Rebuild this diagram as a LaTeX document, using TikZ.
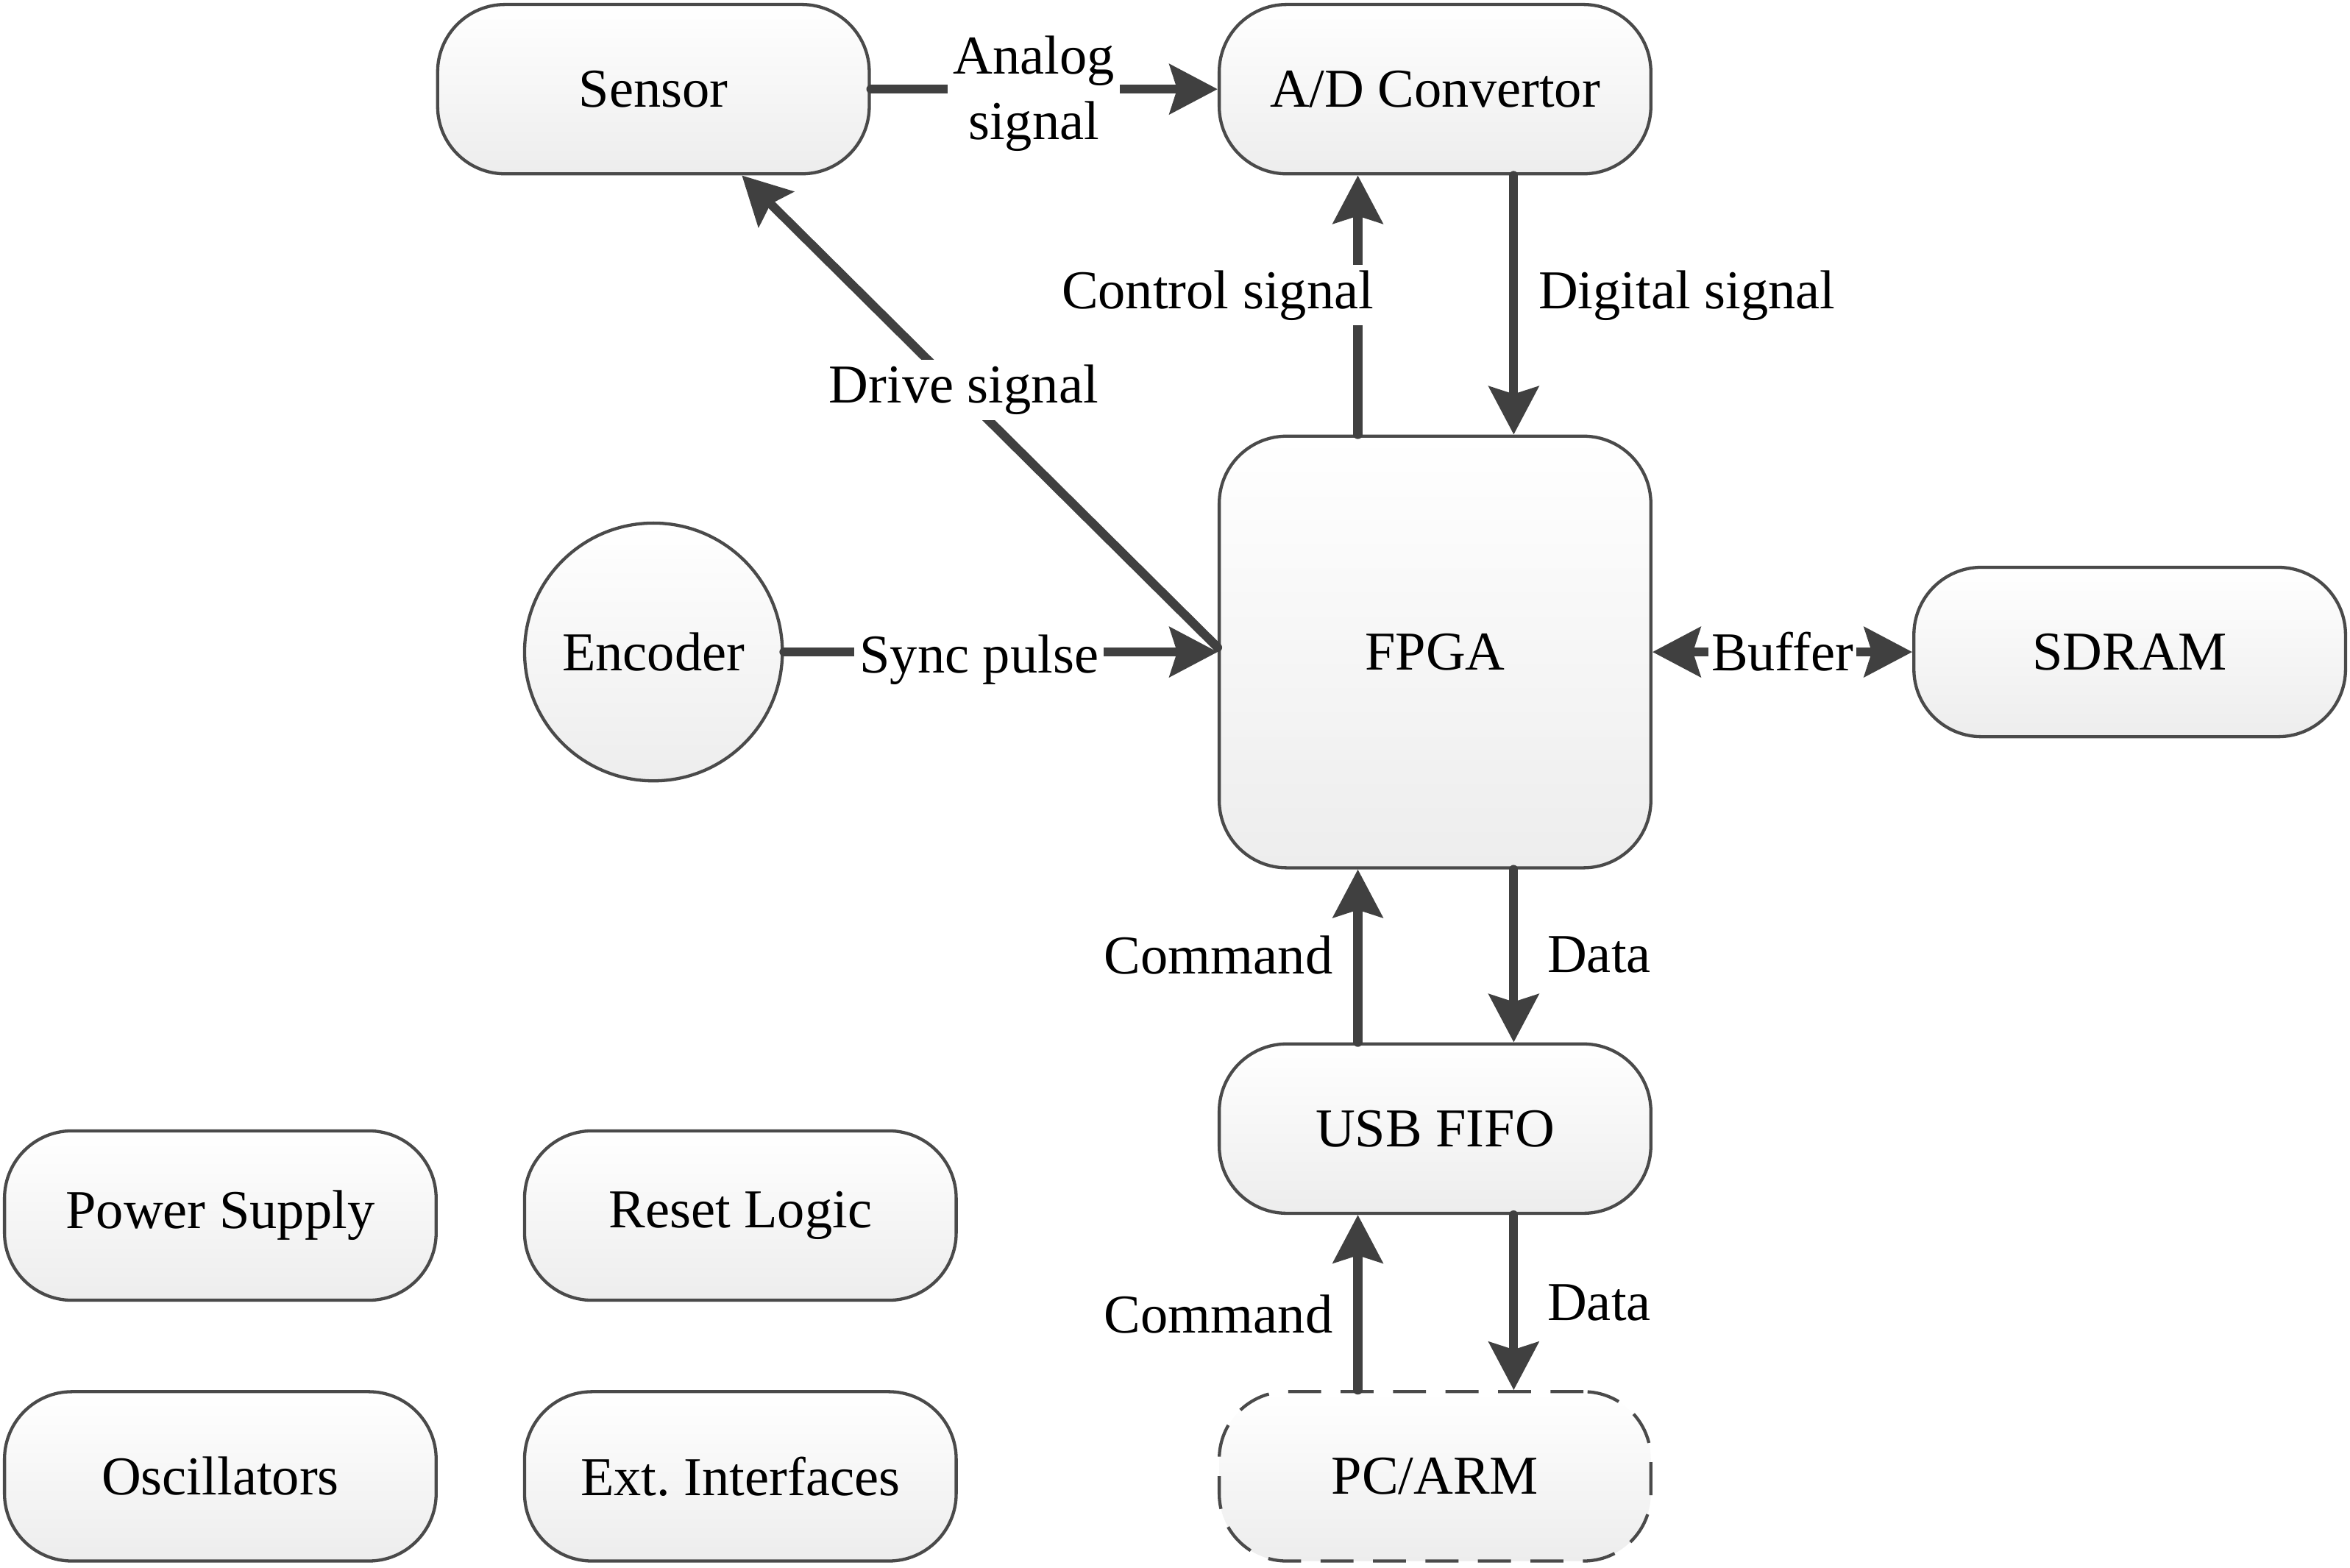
\documentclass[tikz,border=0pt]{standalone}
\usepackage{fontspec}
\setmainfont{Liberation Serif}
\usetikzlibrary{arrows.meta,calc}
\definecolor{conn}{HTML}{404040}
\definecolor{bord}{HTML}{4A4A4A}
\definecolor{fillbot}{HTML}{EDEDED}
\frenchspacing
\tikzset{
  block/.style={draw=bord, line width=0.6pt, rounded corners=4.5mm, top color=white, bottom color=fillbot,
    minimum width=2.88cm, minimum height=1.13cm, inner sep=0pt, font=\fontsize{10.4}{12.5}\selectfont},
  bigblock/.style={block, minimum height=2.88cm},
  roundblock/.style={draw=bord, line width=0.6pt, circle, top color=white, bottom color=fillbot,
    minimum size=1.72cm, inner sep=0pt, font=\fontsize{10.4}{12.5}\selectfont},
  dashblock/.style={block, dashed, dash pattern=on 2.2mm off 1.3mm},
  conn/.style={draw=conn, line width=1.7pt, line cap=round, -{Stealth[length=3.2mm,width=3.3mm,inset=0.5mm]}},
  biconn/.style={draw=conn, line width=1.7pt, {Stealth[length=3.2mm,width=3.3mm,inset=0.5mm]}-{Stealth[length=3.2mm,width=3.3mm,inset=0.5mm]}},
  lbl/.style={font=\fontsize{10.4}{12.5}\selectfont, inner sep=1pt, align=center},
  gaplbl/.style={lbl, fill=white},
}
\begin{document}
\begin{tikzpicture}
\useasboundingbox (0,0) rectangle (15.68,-10.46);
% nodes
\node[block] (sensor) at (4.36,-0.595) {Sensor};
\node[block] (ad) at (9.575,-0.595) {A/D Convertor};
\node[bigblock] (fpga) at (9.575,-4.35) {FPGA};
\node[roundblock] (enc) at (4.36,-4.35) {Encoder};
\node[block] (sdram) at (14.21,-4.35) {SDRAM};
\node[block] (usb) at (9.575,-7.53) {USB FIFO};
\node[dashblock] (pc) at (9.575,-9.85) {PC/ARM};
\node[block] (power) at (1.47,-8.11) {Power Supply};
\node[block] (reset) at (4.94,-8.11) {Reset Logic};
\node[block] (osc) at (1.47,-9.85) {Oscillators};
\node[block] (ext) at (4.94,-9.85) {Ext. Interfaces};
% connectors
\draw[conn] (sensor.east) -- node[gaplbl, xshift=-0.7mm, yshift=-0.3mm] (lanalog) {Analog\\signal} (ad.west);
\coordinate (sensbot) at ($(sensor.south)+(0.59,0)$);
\coordinate (fpgadrv) at ($(fpga.west)+(0,0.03)$);
\draw[conn] (fpgadrv) -- (sensbot);
\node[gaplbl] (ldrive) at (6.43,-2.60) {Drive signal};
\draw[conn] ([xshift=-5.15mm]fpga.north) -- ([xshift=-5.15mm]ad.south);
\node[gaplbl] (lctrl) at (8.125,-1.97) {Control signal};
\draw[conn] ([xshift=5.25mm]ad.south) -- ([xshift=5.25mm]fpga.north);
\node[lbl] (ldig) at (11.255,-1.97) {Digital signal};
\draw[conn] (enc.east) -- node[gaplbl, pos=0.45, yshift=-0.5mm] (lsync) {Sync pulse} (fpga.west);
\draw[biconn] (fpga.east) -- node[gaplbl, inner sep=0.5pt] (lbuf) {Buffer} (sdram.west);
\draw[conn] ([xshift=-5.15mm]usb.north) -- ([xshift=-5.15mm]fpga.south);
\node[lbl] (lcmd1) at (8.13,-6.37) {Command};
\draw[conn] ([xshift=5.25mm]fpga.south) -- ([xshift=5.25mm]usb.north);
\node[lbl] (ldata1) at (10.67,-6.37) {Data};
\draw[conn] ([xshift=-5.15mm]pc.north) -- ([xshift=-5.15mm]usb.south);
\node[lbl] (lcmd2) at (8.13,-8.77) {Command};
\draw[conn] ([xshift=5.25mm]usb.south) -- ([xshift=5.25mm]pc.north);
\node[lbl] (ldata2) at (10.67,-8.69) {Data};
\end{tikzpicture}
\end{document}
